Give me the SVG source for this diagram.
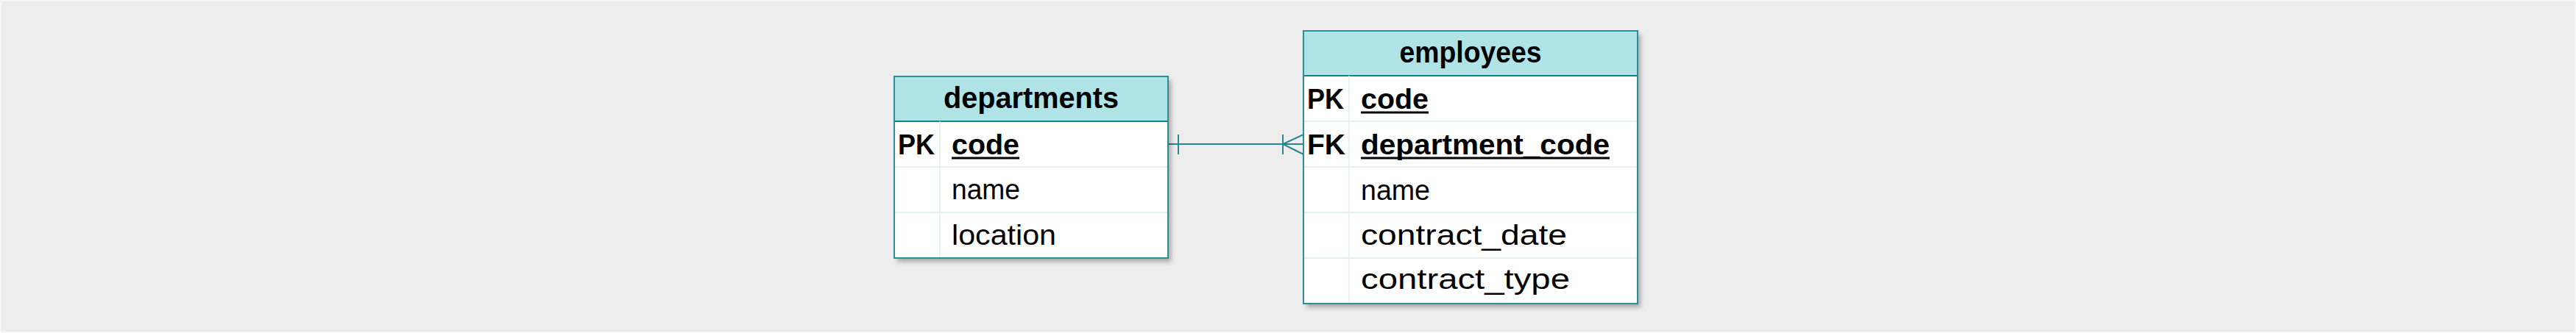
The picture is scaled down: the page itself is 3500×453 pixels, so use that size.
<svg xmlns="http://www.w3.org/2000/svg" width="3500" height="453" viewBox="0 0 3500 453">
<style>
.bg{fill:#ededed;stroke:#f7f7f7;stroke-width:2}
.head{fill:#b0e3e6;stroke:#0e8088;stroke-width:2}
.body{fill:#ffffff}
.frame{fill:none;stroke:#2a8f96;stroke-width:2}
.sep{stroke:#d8e9ea;stroke-width:1.5}
.col{stroke:#e6eeee;stroke-width:1.5}
text{font-family:"Liberation Sans",Arial,sans-serif;fill:#000}
.title{font-size:40px;font-weight:bold;text-anchor:middle}
.key{font-size:38px;font-weight:bold}
.fld{font-size:38px}
.ul{stroke:#000;stroke-width:3}
.conn{fill:none;stroke:#28888f;stroke-width:2}
</style>
<defs>
<filter id="sh" x="-10%" y="-10%" width="130%" height="130%">
<feDropShadow dx="4" dy="5" stdDeviation="3" flood-color="#000" flood-opacity="0.3"/>
</filter>
</defs>
<rect class="bg" x="1" y="1" width="3498" height="451"/>
<g id="connectors">
<path class="conn" d="M1587 196 L1771 196"/>
<path class="conn" d="M1601 183 L1601 210"/>
<path class="conn" d="M1743 183 L1743 210 M1771 183 L1743 196 L1771 210"/>
</g>
<g id="departments">
<g filter="url(#sh)">
<rect class="body" x="1215" y="104" width="372" height="247"/>
</g>
<rect class="head" x="1215" y="104" width="372" height="61"/>
<line class="sep" x1="1215" y1="227" x2="1587" y2="227"/>
<line class="sep" x1="1215" y1="289" x2="1587" y2="289"/>
<line class="col" x1="1277" y1="165" x2="1277" y2="351"/>
<rect class="frame" x="1215" y="104" width="372" height="247"/>
<text class="title" x="1401" y="147" textLength="238" lengthAdjust="spacingAndGlyphs">departments</text>
<text class="key" x="1220" y="210" textLength="50" lengthAdjust="spacingAndGlyphs">PK</text>
<text class="key" x="1293" y="210" textLength="92" lengthAdjust="spacingAndGlyphs">code</text>
<line class="ul" x1="1293" y1="215" x2="1385" y2="215"/>
<text class="fld" x="1293" y="271" textLength="93" lengthAdjust="spacingAndGlyphs">name</text>
<text class="fld" x="1293" y="333" textLength="142" lengthAdjust="spacingAndGlyphs">location</text>
</g>
<g id="employees">
<g filter="url(#sh)">
<rect class="body" x="1771" y="42" width="454" height="371"/>
</g>
<rect class="head" x="1771" y="42" width="454" height="61"/>
<line class="sep" x1="1771" y1="165" x2="2225" y2="165"/>
<line class="sep" x1="1771" y1="227" x2="2225" y2="227"/>
<line class="sep" x1="1771" y1="289" x2="2225" y2="289"/>
<line class="sep" x1="1771" y1="351" x2="2225" y2="351"/>
<line class="col" x1="1833" y1="103" x2="1833" y2="413"/>
<rect class="frame" x="1771" y="42" width="454" height="371"/>
<text class="title" x="1998" y="85" textLength="193" lengthAdjust="spacingAndGlyphs">employees</text>
<text class="key" x="1776" y="148" textLength="50" lengthAdjust="spacingAndGlyphs">PK</text>
<text class="key" x="1849" y="148" textLength="92" lengthAdjust="spacingAndGlyphs">code</text>
<line class="ul" x1="1849" y1="153" x2="1941" y2="153"/>
<text class="key" x="1776" y="210" textLength="52" lengthAdjust="spacingAndGlyphs">FK</text>
<text class="key" x="1849" y="210" textLength="338" lengthAdjust="spacingAndGlyphs">department_code</text>
<line class="ul" x1="1849" y1="215" x2="2187" y2="215"/>
<text class="fld" x="1849" y="272" textLength="94" lengthAdjust="spacingAndGlyphs">name</text>
<text class="fld" x="1849" y="333" textLength="280" lengthAdjust="spacingAndGlyphs">contract_date</text>
<text class="fld" x="1849" y="393" textLength="284" lengthAdjust="spacingAndGlyphs">contract_type</text>
</g>
</svg>
